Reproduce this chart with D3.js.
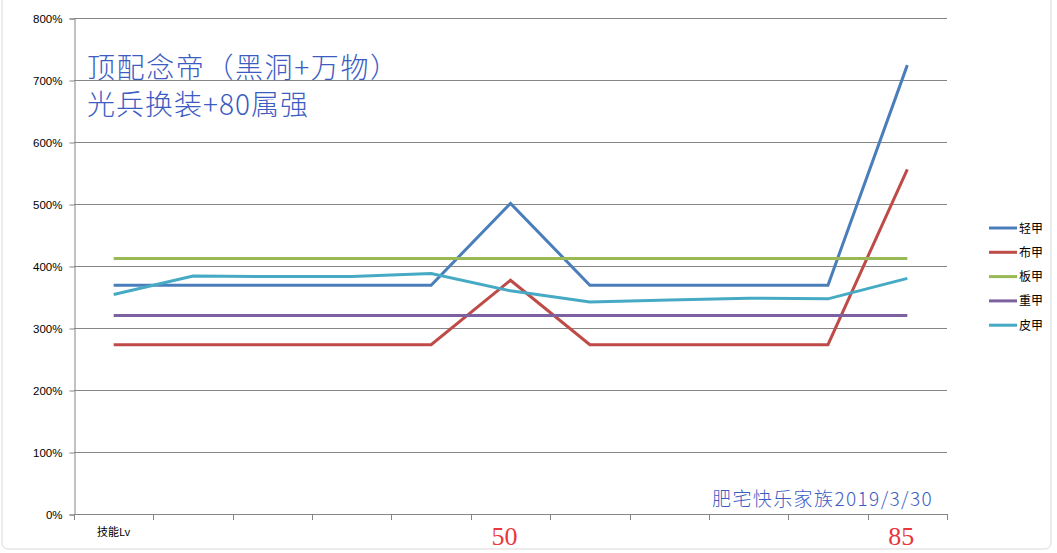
<!DOCTYPE html>
<html><head><meta charset="utf-8">
<script src="https://cdn.jsdelivr.net/npm/d3@7"></script>
<style>body{margin:0;background:#fff;}svg{display:block;}</style>
</head><body>
<svg id="c" width="1057" height="553"></svg>
<script>
const categories = ["技能Lv","","","","","50","","","","","85"];
const seriesNames = ["轻甲","布甲","板甲","重甲","皮甲"];
const lightArmor = [369,369,369,369,369,501,369,369,369,369,724];
const clothArmor = [273,273,273,273,273,377,273,273,273,273,556];
const plateArmor = [412,412,412,412,412,412,412,412,412,412,412];
const heavyArmor = [320,320,320,320,320,320,320,320,320,320,320];
const leatherArmor = [354,384,383,383,388,360,342,345,348,347,380];
const yTicks = [0,100,200,300,400,500,600,700,800];
const titleLines = ["顶配念帝（黑洞+万物）","光兵换装+80属强"];
const watermark = "肥宅快乐家族2019/3/30";

(function(){
const seriesValues = [lightArmor, clothArmor, plateArmor, heavyArmor, leatherArmor];
const colors = ["#4a7ebb","#be4b48","#98b954","#7d60a0","#46aac5"];

const svg = d3.select("#c");
const pl = 74, pr = 947, pt = 18, pb = 514;

svg.append("rect").attr("x",2).attr("y",-6).attr("width",1049).attr("height",555)
  .attr("rx",6).attr("fill","#fff").attr("stroke","#d9d9d9").attr("stroke-width",1);

const x = d3.scaleBand().domain(d3.range(categories.length)).range([pl,pr]).padding(0);
const y = d3.scaleLinear().domain([0,800]).range([pb,pt]);

svg.append("g").selectAll("line").data(yTicks.filter(d=>d>0)).join("line")
  .attr("x1",pl).attr("x2",pr)
  .attr("y1",d=>Math.round(y(d))+0.5).attr("y2",d=>Math.round(y(d))+0.5)
  .attr("stroke","#868686").attr("stroke-width",1);

const yAxis = d3.axisLeft(y).tickValues(yTicks).tickFormat(d=>d+"%").tickSize(5).tickPadding(7);
const gy = svg.append("g").attr("transform",`translate(${pl+0.5},0.5)`).call(yAxis);
gy.select(".domain").attr("stroke","#868686");
gy.selectAll(".tick line").attr("stroke","#868686");
gy.selectAll(".tick text").attr("font-family","Liberation Sans, Arial, sans-serif").attr("font-size",11.5).attr("fill","#000");

const boundaries = d3.range(categories.length+1).map(i=>pl + i*x.bandwidth());
const gx = svg.append("g");
gx.append("line").attr("x1",pl).attr("x2",pr).attr("y1",pb+0.5).attr("y2",pb+0.5).attr("stroke","#868686");
gx.selectAll("line.t").data(boundaries).join("line").attr("class","t")
  .attr("x1",d=>Math.round(d)+0.5).attr("x2",d=>Math.round(d)+0.5)
  .attr("y1",pb).attr("y2",pb+6).attr("stroke","#868686");

const cx = i => x(i) + x.bandwidth()/2;
categories.forEach((c,i)=>{
  if(!c) return;
  if(i===0){
    svg.append("text").attr("x",cx(i)).attr("y",536).attr("text-anchor","middle")
      .attr("font-family","Noto Sans CJK SC, sans-serif").attr("font-size",11).attr("fill","#000").text(c);
  } else {
    svg.append("text").attr("x",cx(i)-6).attr("y",545).attr("text-anchor","middle")
      .attr("font-family","Liberation Serif, serif").attr("font-size",26).attr("fill","#e8383d").text(c);
  }
});

const line = d3.line().x((d,i)=>cx(i)).y(d=>y(d));
seriesValues.forEach((vals,k)=>{
  svg.append("path").datum(vals).attr("d",line).attr("fill","none")
    .attr("stroke",colors[k]).attr("stroke-width",3).attr("stroke-linejoin","miter");
});

const spacing = [1.6, 1.0];
const title = svg.append("text").attr("x",87).attr("y",78)
  .attr("font-family","Noto Sans CJK SC, sans-serif").attr("font-weight",300)
  .attr("font-size",28).attr("fill","#3c5cc2");
titleLines.forEach((t,i)=>{
  title.append("tspan").attr("x",87).attr("dy",i===0?0:37)
    .attr("letter-spacing",spacing[i]).text(t);
});
svg.append("text").attr("x",712).attr("y",506)
  .attr("font-family","Noto Sans CJK SC, sans-serif").attr("font-weight",300)
  .attr("font-size",19).attr("letter-spacing",1.4).attr("fill","#3c5cc2").text(watermark);

const lg = svg.append("g");
seriesNames.forEach((n,k)=>{
  const yy = 228 + k*24.3;
  lg.append("line").attr("x1",989).attr("x2",1017).attr("y1",yy).attr("y2",yy)
    .attr("stroke",colors[k]).attr("stroke-width",3);
  lg.append("text").attr("x",1019).attr("y",yy+4.5)
    .attr("font-family","Noto Sans CJK SC, sans-serif").attr("font-size",12).attr("fill","#000").text(n);
});
})();
</script>
</body></html>
